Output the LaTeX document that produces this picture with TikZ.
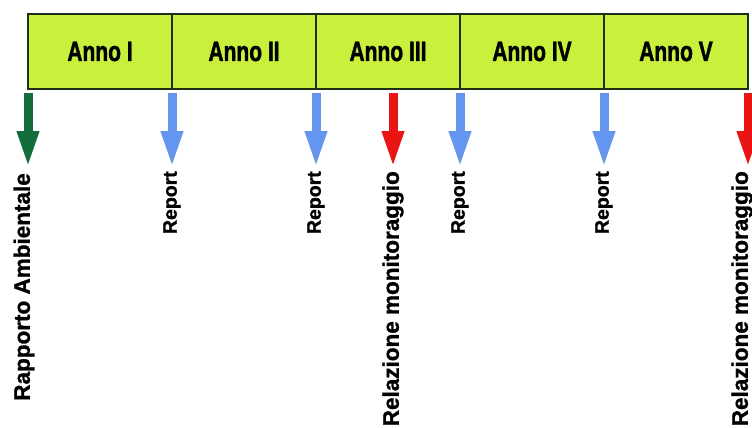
\documentclass[tikz,border=0pt]{standalone}
\usepackage{fontspec}
\setmainfont{Liberation Sans}
\newfontfamily\annofont{Liberation Sans}[FakeStretch=0.75,FakeBold=1.5]
\newfontfamily\docfont{Liberation Sans}[FakeBold=1.2]
\usetikzlibrary{arrows.meta,positioning,calc}
\definecolor{annofill}{RGB}{200,240,60}
\definecolor{annoline}{RGB}{30,45,20}
\definecolor{ambgreen}{RGB}{20,110,60}
\definecolor{repblue}{RGB}{100,150,240}
\definecolor{relred}{RGB}{235,20,20}
\tikzset{
  anno/.style={draw=annoline, line width=1.5pt, fill=annofill, outer sep=0pt, inner sep=0pt,
    minimum width=144pt, minimum height=75pt, font=\annofont\bfseries\fontsize{28}{28}\selectfont},
  doc/.style={rotate=90, anchor=east, inner sep=0pt, font=\docfont\bfseries\fontsize{22.5}{22.5}\selectfont},
  shortdoc/.style={doc, font=\docfont\bfseries\fontsize{19.5}{19.5}\selectfont},
  deliver/.style={line width=9pt, -{Triangle[width=20pt,length=37pt]}, shorten >=3pt},
}
\begin{document}
\begin{tikzpicture}[x=1pt,y=-1pt]
  \clip (0,0) rectangle (752,428); % keeps the page size

  % the five years
  \node[anno] (y1) at (100,51.5) {Anno I};
  \node[anno,right=0pt of y1] (y2) {Anno II};
  \node[anno,right=0pt of y2] (y3) {Anno III};
  \node[anno,right=0pt of y3] (y4) {Anno IV};
  \node[anno,right=0pt of y4] (y5) {Anno V};

  \coordinate (base) at (0,171);
  \coordinate (mid3) at ($(y3.south)+(5,0)$);

  % documents
  \node[doc] (rapp) at ($(y1.south west |- base)+(-4,2)$) {Rapporto Ambientale};
  \node[shortdoc] (rep1) at (y1.south east |- base) {Report};
  \node[shortdoc] (rep2) at (y2.south east |- base) {Report};
  \node[doc] (rel1) at (mid3 |- base) {Relazione monitoraggio};
  \node[shortdoc] (rep3) at (y3.south east |- base) {Report};
  \node[shortdoc] (rep4) at (y4.south east |- base) {Report};
  \node[doc] (rel2) at ($(y5.south east |- base)+(-6,0)$) {Relazione monitoraggio};

  \draw[deliver,ambgreen] ($(y1.south west)+(0,4)$) -- (y1.south west |- base);
  \draw[deliver,repblue] ($(y1.south east)+(0,4)$) -- (rep1.east);
  \draw[deliver,repblue] ($(y2.south east)+(0,4)$) -- (rep2.east);
  \draw[deliver,relred] ($(mid3)+(0,4)$) -- (rel1.east);
  \draw[deliver,repblue] ($(y3.south east)+(0,4)$) -- (rep3.east);
  \draw[deliver,repblue] ($(y4.south east)+(0,4)$) -- (rep4.east);
  \draw[deliver,relred] ($(y5.south east)+(0,4)$) -- (y5.south east |- rel2.east);
\end{tikzpicture}
\end{document}
